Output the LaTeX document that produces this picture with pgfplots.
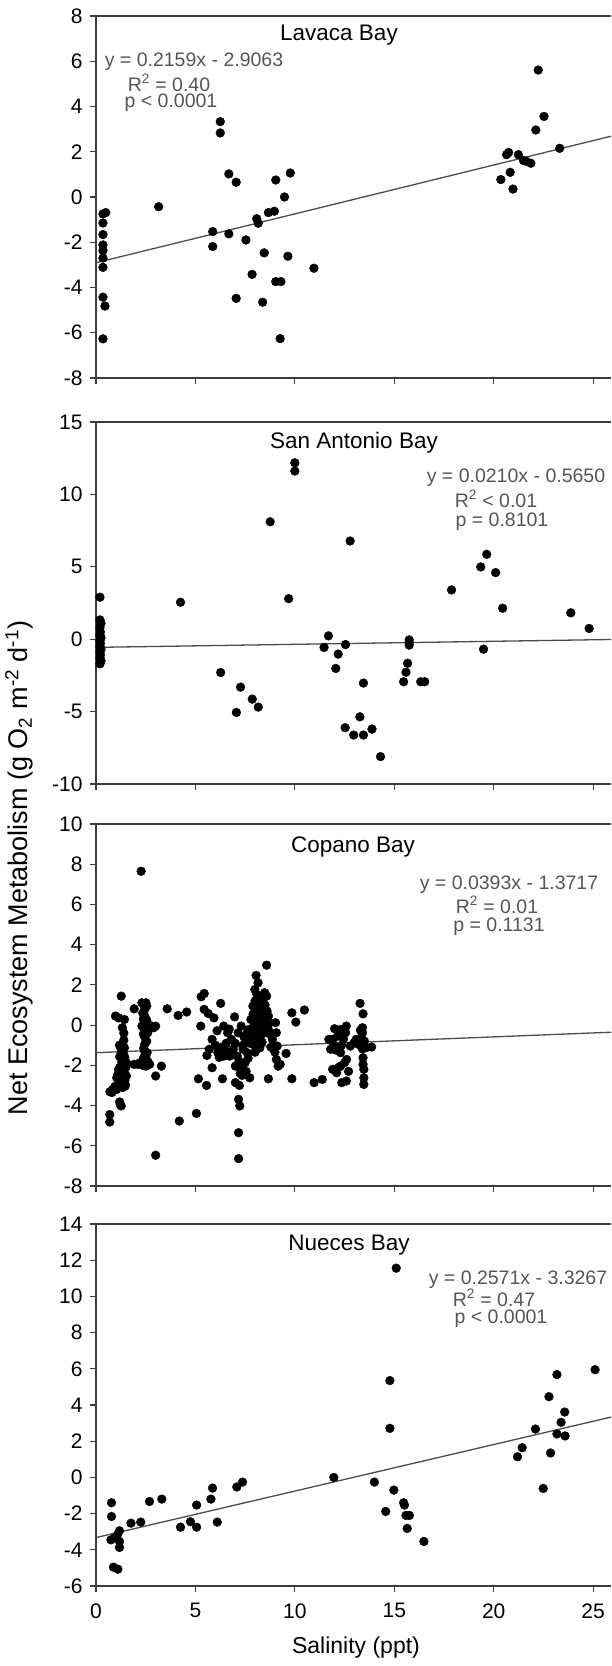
\documentclass[border=0pt]{standalone}
\usepackage{fontspec}
\setmainfont{Liberation Sans}
\usepackage{pgfplots}
\pgfplotsset{compat=1.18}
\definecolor{eqgray}{RGB}{85,85,85}
\definecolor{axgray}{RGB}{60,60,60}
\pgfplotsset{
  panel/.style={
    width=515pt, height=362pt, scale only axis,
    anchor=south west,
    xmin=0, xmax=25.9,
    xtick={0,5,10,15,20,25},
    axis x line=box, axis y line=left,
    axis line style={-, axgray, line width=1.3pt},
    xtick pos=bottom, ytick pos=left,
    tick align=outside,
    major tick length=6pt,
    every tick/.style={axgray, line width=1.2pt},
    /pgf/number format/assume math mode=true,
    tick label style={font=\fontsize{21}{25}\selectfont},
    xticklabel style={yshift=-8pt},
    yticklabel style={xshift=-4pt},
  },
  dots/.style={only marks, mark=*, mark size=4.4pt, black, mark options={fill=black, draw=black}},
  trend/.style={no marks, color=black!70, line width=1.3pt},
}
\newcommand{\eqf}{\fontsize{19.5}{22}\selectfont\color{eqgray}}
\newcommand{\ttf}{\fontsize{22.5}{26}\selectfont}
\tikzset{eq/.style={font=\eqf, inner sep=0pt}}
\begin{document}
\begin{tikzpicture}[x=1pt,y=1pt]
\useasboundingbox (0,0) rectangle (611,1666);

% ---------------- Lavaca Bay ----------------
\begin{axis}[panel, at={(96pt,1288pt)}, ymin=-8, ymax=8, ytick={-8,-6,...,8}, xticklabels={}]
\addplot[dots] coordinates {
(0.35,-6.27) (0.45,-4.82) (0.35,-4.43) (0.35,-3.11) (0.35,-2.70) (0.35,-2.37)
(0.35,-2.12) (0.35,-1.66) (0.35,-1.15) (0.35,-0.75) (0.49,-0.69) (3.15,-0.43)
(5.87,-1.53) (5.87,-2.19) (6.25,3.33) (6.25,2.83) (6.68,1.02) (7.05,0.65)
(6.68,-1.63) (7.05,-4.48) (7.54,-1.90) (7.85,-3.42) (8.08,-0.96) (8.16,-1.16)
(8.38,-4.65) (8.46,-2.47) (8.67,-0.69) (8.97,-0.63) (9.04,0.75) (9.04,-3.74)
(9.30,-3.74) (9.26,-6.26) (9.48,0.00) (9.65,-2.62) (9.77,1.06) (10.96,-3.15)
(20.36,0.77) (20.65,1.87) (20.75,1.97) (20.83,1.09) (20.97,0.35) (21.24,1.87)
(21.50,1.61) (21.63,1.58) (21.87,1.49) (22.12,2.96) (22.24,5.61) (22.53,3.56)
(23.32,2.15)
};
\addplot[trend] coordinates {(0,-2.9063) (25.9,2.6855)};
\end{axis}

% ---------------- San Antonio Bay ----------------
\begin{axis}[panel, at={(96pt,882pt)}, ymin=-10, ymax=15, ytick={-10,-5,...,15}, xticklabels={}]
\addplot[dots] coordinates {
(0.2,2.90) (0.2,1.33) (0.25,1.1) (0.2,0.8) (0.22,0.5) (0.2,0.3) (0.25,0.1)
(0.2,-0.1) (0.22,-0.3) (0.2,-0.5) (0.25,-0.7) (0.2,-0.9) (0.22,-1.1) (0.2,-1.3)
(0.25,-1.5) (0.2,-1.7)
(4.25,2.55) (6.27,-2.30) (7.06,-5.06) (7.27,-3.31) (7.86,-4.14) (8.16,-4.69)
(8.76,8.11) (9.69,2.80) (10.0,12.18) (10.0,11.61) (11.47,-0.57) (11.69,0.23)
(12.06,-2.02) (12.18,-1.03) (12.55,-0.37) (12.53,-6.11) (12.78,6.78) (12.96,-6.62)
(13.27,-5.36) (13.45,-3.03) (13.45,-6.62) (13.88,-6.21) (14.31,-8.11)
(15.47,-2.94) (15.59,-2.28) (15.67,-1.66) (15.75,-0.05) (15.75,-0.41) (15.75,-0.23)
(16.33,-2.94) (16.53,-2.94) (17.88,3.40) (19.35,4.99) (19.49,-0.69) (19.65,5.86)
(20.10,4.60) (20.45,2.14) (23.88,1.82) (24.80,0.74)
};
\addplot[trend] coordinates {(0,-0.5650) (25.9,-0.0211)};
\end{axis}

% ---------------- Copano Bay ----------------
\begin{axis}[panel, at={(96pt,480pt)}, ymin=-8, ymax=10, ytick={-8,-6,...,10}, xticklabels={}]
\addplot[dots] coordinates {
(0.69,-4.45) (0.69,-4.82) (0.70,-3.31) (0.84,-3.20) (0.98,0.45) (1.14,0.36)
(1.27,1.44) (1.33,-0.13) (1.43,0.28) (1.19,-3.82) (1.27,-4.02)
(1.33,-0.96) (1.37,-1.37) (1.39,-1.71) (1.33,-2.04) (1.43,-2.37) (1.39,-2.70)
(1.47,-3.03) (1.23,-2.86) (1.04,-3.20) (1.14,-2.20) (1.04,-2.62) (1.53,-1.87)
(1.19,-1.57) (1.27,-1.21) (1.43,-1.13) (1.53,-2.53) (1.47,-2.95) (1.10,-2.45)
(1.30,-1.85) (1.20,-2.10) (1.40,-0.75) (1.35,-1.10) (1.28,-1.45) (1.45,-1.60)
(1.32,-2.25) (1.25,-2.55) (1.45,-2.75) (1.35,-3.10) (0.95,-3.05) (0.80,-3.35)
(1.22,-3.95) (1.50,-2.10) (1.40,-0.40) (1.18,-1.00)
(2.27,7.65) (1.92,0.81) (2.31,1.11) (2.51,1.11) (2.45,0.78) (2.45,0.45)
(2.45,0.10) (2.45,-0.25) (2.45,-0.60) (2.45,-0.95) (2.45,-1.30) (2.31,-0.05)
(2.60,-0.38) (2.90,-0.13) (3.00,-0.05) (2.21,-1.87) (1.92,-1.95) (2.70,-1.95)
(3.00,-2.53) (3.29,-2.04) (3.00,-6.47) (2.51,-2.04) (2.57,-1.37) (2.35,0.60)
(2.55,0.25) (2.40,-1.60) (2.40,1.00) (2.55,0.95) (2.38,0.30) (2.52,-0.10)
(2.38,-0.45) (2.55,-0.80) (2.40,-1.15) (2.50,-1.55) (2.60,-1.80) (2.35,-2.00)
(2.10,-1.95) (2.80,-0.05)
(3.58,0.81) (4.13,0.48) (4.56,0.65) (4.19,-4.77) (5.05,-4.39) (5.15,-2.67)
(5.27,-0.05) (5.29,1.41) (5.44,1.57) (5.44,0.78) (5.64,0.58) (5.93,0.36)
(5.58,-1.51) (5.56,-3.00) (5.84,-2.12) (6.27,1.08) (6.09,-0.28) (5.84,-0.71)
(6.13,-1.37) (6.42,-1.54) (6.36,-2.67) (6.72,-1.54) (6.42,-0.05) (6.62,-0.38)
(6.81,-0.71) (6.97,0.41) (7.15,-0.38) (7.30,-0.05) (7.01,-2.86) (7.21,-3.00)
(7.17,-3.69) (7.23,-4.02) (7.17,-5.35) (7.17,-6.64) (7.73,-2.62) (7.50,-1.87)
(7.60,-1.37) (7.70,-0.88) (7.40,-1.21) (7.10,-1.54) (7.01,-2.04) (7.30,-2.20)
(6.30,-1.10) (6.55,-0.90) (6.90,-1.20) (7.45,-0.60) (7.35,-2.50) (6.00,-1.00)
(6.20,-1.60) (6.70,-0.20) (7.00,-0.90) (7.20,-1.80) (7.40,-1.00) (7.55,-2.30)
(7.60,-0.40) (6.50,-1.30) (5.70,-1.20) (7.25,-2.40) (7.65,-1.65)
(8.58,2.98) (8.05,2.47) (7.99,1.77) (8.09,1.52) (8.48,1.61) (8.58,1.44)
(7.89,0.94) (8.09,0.78) (8.28,0.61) (7.79,0.28) (8.09,0.28) (8.38,0.20)
(8.67,0.45) (7.69,-0.22) (7.99,-0.38) (8.28,-0.22) (8.48,-0.38) (8.18,-0.71)
(7.89,-0.96) (8.24,-1.13) (8.67,-0.22) (8.87,-0.71) (9.03,0.12) (9.07,-0.38)
(9.11,-1.04) (9.16,-2.04) (9.07,-1.71) (9.26,-1.95) (8.67,-2.67) (9.56,-1.41)
(7.95,0.00) (8.20,1.10) (8.40,0.95) (8.55,-0.05) (8.75,-0.45) (7.85,-0.55)
(8.00,-1.35) (8.35,-0.85) (8.60,0.70) (8.15,1.30) (8.00,1.20) (8.25,0.40)
(8.45,0.05) (8.10,-0.10) (7.90,0.55) (8.50,1.00) (8.70,0.10) (8.30,-0.50)
(8.80,-1.10) (9.00,-1.35) (8.15,2.10) (8.40,1.30)
(9.85,0.61) (10.05,0.15) (10.48,0.75) (9.85,-2.67) (10.97,-2.86) (11.38,-2.70)
(12.00,-0.18) (11.90,-0.71) (11.71,-0.71) (12.20,-0.38) (12.40,-0.55) (12.30,-0.22)
(12.59,-0.05) (12.00,-1.21) (12.30,-1.37) (12.55,-0.38) (11.90,-2.20) (12.10,-2.37)
(12.30,-2.04) (12.50,-1.87) (12.60,-1.71) (12.36,-2.86) (12.59,-2.78) (12.79,-1.04)
(12.98,-0.88) (13.08,-0.71) (13.28,1.08) (13.43,0.56) (13.40,-0.13) (13.40,-0.38)
(13.35,-0.63) (13.20,-0.96) (13.40,-1.18) (13.43,-1.62) (13.43,-1.95) (13.47,-2.20)
(13.47,-2.62) (13.47,-2.95) (13.57,-1.13) (13.86,-1.09) (12.10,-1.25) (11.80,-1.20)
(12.45,-0.70) (12.70,-2.30) (12.15,-0.55) (12.35,-1.00) (11.95,-1.00) (12.20,-2.10)
(13.30,-0.25) (13.50,-0.80)
};
\addplot[trend] coordinates {(0,-1.3717) (25.9,-0.3538)};
\end{axis}

% ---------------- Nueces Bay ----------------
\begin{axis}[panel, at={(96pt,80pt)}, ymin=-6, ymax=14, ytick={-6,-4,...,14}]
\addplot[dots] coordinates {
(0.78,-1.40) (0.78,-2.16) (0.75,-3.45) (0.88,-4.96) (1.10,-5.07) (0.94,-3.32)
(1.08,-3.17) (1.18,-2.95) (1.18,-3.54) (1.18,-3.87) (1.76,-2.53) (2.25,-2.47)
(2.69,-1.33) (3.31,-1.20) (4.25,-2.75) (4.75,-2.45) (5.06,-2.75) (5.06,-1.53)
(5.78,-1.20) (5.86,-0.59) (6.10,-2.47) (7.08,-0.53) (7.37,-0.26) (11.96,0.00)
(14.00,-0.26) (14.57,-1.88) (14.78,5.35) (14.78,2.71) (14.98,-0.70) (15.10,11.56)
(15.47,-1.40) (15.51,-1.53) (15.59,-2.10) (15.76,-2.10) (15.65,-2.82) (16.49,-3.54)
(21.20,1.14) (21.43,1.64) (22.10,2.67) (22.49,-0.61) (22.78,4.46) (22.86,1.35)
(23.18,5.68) (23.18,2.40) (23.39,3.04) (23.57,3.61) (23.59,2.29) (25.10,5.95)
};
\addplot[trend] coordinates {(0,-3.3267) (25.9,3.3322)};
\end{axis}

% ---------------- text ----------------
\node[font=\ttf] at (339,1631) {Lavaca Bay};
\node[eq] at (194,1604) {y = 0.2159x - 2.9063};
\node[eq] at (169,1583) {R\textsuperscript{2} = 0.40};
\node[eq] at (171,1563) {p < 0.0001};

\node[font=\ttf] at (354,1223) {San Antonio Bay};
\node[eq] at (516,1188) {y = 0.0210x - 0.5650};
\node[eq] at (496,1167) {R\textsuperscript{2} < 0.01};
\node[eq] at (502,1144) {p = 0.8101};

\node[font=\ttf] at (353,819) {Copano Bay};
\node[eq] at (509,781) {y = 0.0393x - 1.3717};
\node[eq] at (497,761) {R\textsuperscript{2} = 0.01};
\node[eq] at (499,739) {p = 0.1131};

\node[font=\ttf] at (349,421) {Nueces Bay};
\node[eq] at (518,386) {y = 0.2571x - 3.3267};
\node[eq] at (494,368) {R\textsuperscript{2} = 0.47};
\node[eq] at (501,347) {p < 0.0001};

\node[font=\fontsize{23}{27}\selectfont] at (356,18) {Salinity (ppt)};
\node[font=\fontsize{27}{31}\selectfont, rotate=90] at (19,798)
  {Net Ecosystem Metabolism (g O\textsubscript{2} m\textsuperscript{-2} d\textsuperscript{-1})};
\end{tikzpicture}
\end{document}
